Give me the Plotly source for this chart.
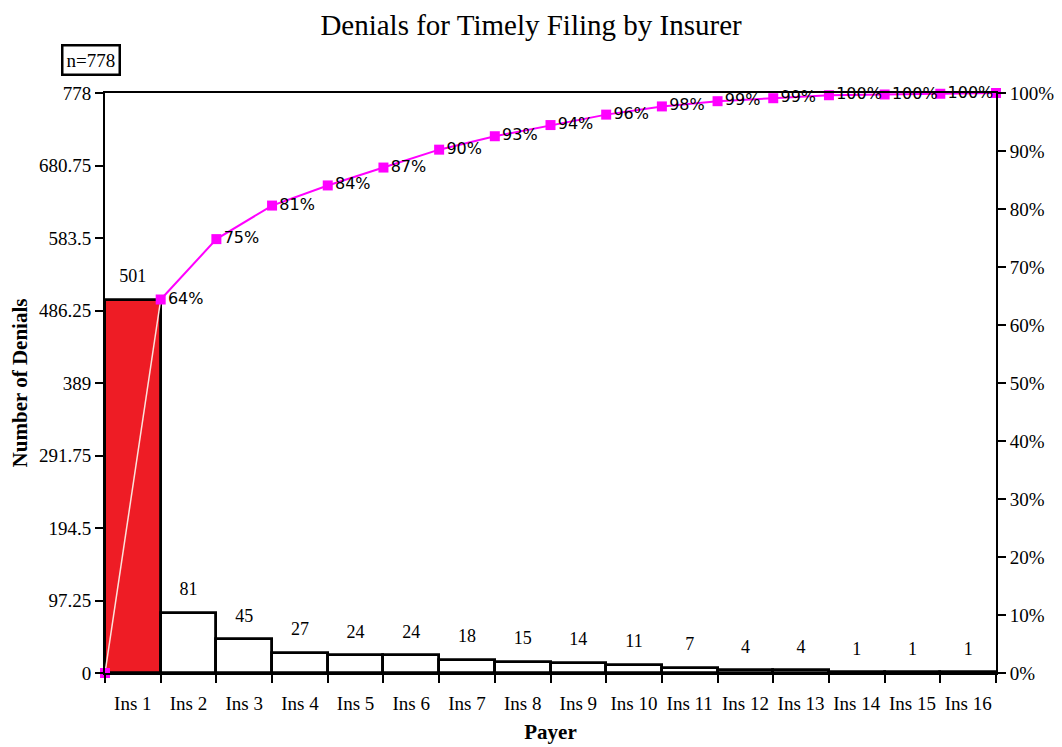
import plotly.graph_objects as go

payers = ["Ins 1", "Ins 2", "Ins 3", "Ins 4", "Ins 5", "Ins 6", "Ins 7", "Ins 8",
          "Ins 9", "Ins 10", "Ins 11", "Ins 12", "Ins 13", "Ins 14", "Ins 15", "Ins 16"]
denials = [501, 81, 45, 27, 24, 24, 18, 15, 14, 11, 7, 4, 4, 1, 1, 1]
total = sum(denials)
left_ticks = [0, 97.25, 194.5, 291.75, 389, 486.25, 583.5, 680.75, 778]

# cumulative percentages at the right edge of each bar, starting at 0
cum = [0]
running = 0
for d in denials:
    running += d
    cum.append(running / total * 100)
cum_x = [i - 0.5 for i in range(len(denials) + 1)]
# no label on the start point nor on the final point
cum_text = [""] + [f"{round(c)}%" for c in cum[1:-1]] + [""]

serif = "Liberation Serif"
sans = "DejaVu Sans"
bar_colors = ["#ee1c25"] + ["white"] * (len(denials) - 1)
bar_x = list(range(len(denials)))

fig = go.Figure()
fig.add_trace(go.Bar(
    x=bar_x, y=denials, width=1,
    marker=dict(color=bar_colors, line=dict(color="black", width=2.8)),
    showlegend=False,
))
# value labels above bars (invisible markers give the gap)
fig.add_trace(go.Scatter(
    x=bar_x, y=denials, mode="markers+text",
    marker=dict(size=19, opacity=0),
    text=[str(d) for d in denials], textposition="top center",
    textfont=dict(family=serif, size=18, color="black"),
    cliponaxis=False, showlegend=False, hoverinfo="skip",
))
# first segment (inside red bar) appears light
fig.add_trace(go.Scatter(
    x=cum_x[:2], y=cum[:2], yaxis="y2", mode="lines",
    line=dict(color="#fbe3dc", width=1.5), showlegend=False, hoverinfo="skip",
))
fig.add_trace(go.Scatter(
    x=cum_x[1:], y=cum[1:], yaxis="y2", mode="lines",
    line=dict(color="#ff00ff", width=2), showlegend=False,
))
fig.add_trace(go.Scatter(
    x=cum_x, y=cum, yaxis="y2", mode="markers+text",
    marker=dict(symbol="square", size=10, color="#ff00ff"),
    text=cum_text, textposition="middle right",
    textfont=dict(family=sans, size=16, color="black"),
    cliponaxis=False, showlegend=False,
))

fig.update_layout(
    width=1062, height=747,
    margin=dict(l=97, r=74, t=85, b=82),
    plot_bgcolor="white", paper_bgcolor="white",
    bargap=0,
    title=dict(text="Denials for Timely Filing by Insurer", x=0.4925, xanchor="center",
               y=0.977, yanchor="middle",
               font=dict(family=serif, size=29, color="black")),
    font=dict(family=serif, color="black"),
    xaxis=dict(
        range=[-0.5, len(denials) - 0.5], automargin=False,
        tickvals=bar_x, ticktext=payers,
        ticks="", ticklabelstandoff=12,
        tickfont=dict(family=serif, size=19, color="black"),
        showline=True, linecolor="black", linewidth=2, mirror=True,
        showgrid=False, zeroline=False,
        minor=dict(tick0=-0.5, dtick=1, ticks="outside", ticklen=8,
                   tickcolor="black", tickwidth=1.5, showgrid=False),
        title=dict(text="<b>Payer</b>", font=dict(family=serif, size=21, color="black"),
                   standoff=12),
    ),
    yaxis=dict(
        range=[0, total], tickvals=left_ticks, automargin=False,
        ticktext=[("%g" % t) for t in left_ticks],
        ticks="outside", ticklen=8, tickcolor="black", tickwidth=1.5,
        tickfont=dict(family=serif, size=19, color="black"),
        showline=True, linecolor="black", linewidth=2, mirror=True,
        showgrid=False, zeroline=False,
        title=dict(text="<b>Number of Denials</b>", font=dict(family=serif, size=21, color="black"),
                   standoff=12),
    ),
    yaxis2=dict(
        range=[0, 100], overlaying="y", side="right", automargin=False,
        tickvals=list(range(0, 101, 10)), ticktext=[f"{v}%" for v in range(0, 101, 10)],
        ticks="outside", ticklen=8, tickcolor="black", tickwidth=1.5,
        tickfont=dict(family=serif, size=19, color="black"),
        showline=True, linecolor="black", linewidth=2,
        showgrid=False, zeroline=False,
    ),
    annotations=[dict(
        text="n=778", xref="paper", yref="paper", x=-0.0157, y=1.057,
        xanchor="center", yanchor="middle", showarrow=False,
        font=dict(family=serif, size=19, color="black"),
        bordercolor="black", borderwidth=2.5, borderpad=3, bgcolor="white",
    )],
)

fig.write_html("out.html")
